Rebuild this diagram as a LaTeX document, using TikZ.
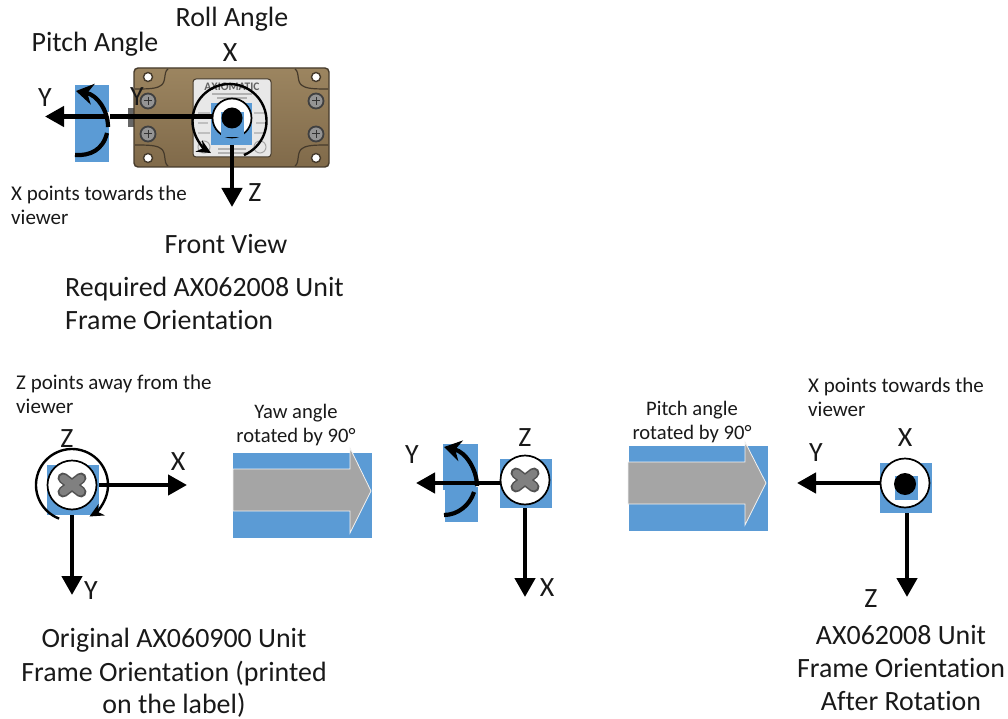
\documentclass[tikz,border=0pt]{standalone}
\usepackage{fontspec}
\setmainfont{Carlito}[Ligatures=NoCommon]
\usetikzlibrary{arrows.meta,calc}
\definecolor{bluefill}{HTML}{5B9BD5}
\definecolor{arrowgray}{HTML}{A5A5A5}
\definecolor{brassA}{HTML}{9C8560}
\definecolor{brassB}{HTML}{806A4A}
\definecolor{brassD}{HTML}{453A2B}
\tikzset{
  txt/.style={font=\fontsize{27.9}{27.9}\selectfont,inner sep=0pt,text=black!90,text depth=0pt},
  small/.style={font=\fontsize{21}{21}\selectfont,inner sep=0pt,anchor=west,text=black!90,text depth=0pt},
  angletxt/.style={font=\fontsize{20.6}{20.6}\selectfont,inner sep=0pt,text=black!90,text depth=0pt},
  bsq/.style={fill=bluefill,draw=none,inner sep=0pt,minimum width=#1},
  axis/.style={line width=4.4pt,-{Triangle[width=20pt,length=19pt]}},
  hub/.style={circle,fill=white,draw=black,line width=1.7pt,minimum size=49pt,inner sep=0pt},
  sweep/.style={line width=2.4pt,-{Stealth[width=13pt,length=14pt]}},
  pitch/.style={line width=4.2pt},
  pitchtip/.style={line width=4.2pt,-{Stealth[width=21pt,length=17pt]}},
  band/.style={fill=bluefill,draw=none},
  bigarrow/.style={fill=arrowgray,draw=white!85!arrowgray,line width=.8pt},
  crossA/.style={line width=11pt,draw=black!68,line cap=round},
  crossB/.style={line width=8pt,draw=black!50,line cap=round},
  hole/.style={circle,fill=white,draw=brassD,line width=1.4pt,minimum size=9pt,inner sep=0pt},
  screw/.style={circle,fill=black!42,draw=black!75,line width=1.8pt,minimum size=15pt,inner sep=0pt},
  notch/.style={draw=brassD,line width=1.2pt},
}
\newcommand{\screwcross}[1]{%
  \draw[crossA] ($(#1)+(-9,-7)$) -- ($(#1)+(9,7)$);
  \draw[crossA] ($(#1)+(-9,7)$) -- ($(#1)+(9,-7)$);
  \draw[crossB] ($(#1)+(-8.5,-6.5)$) -- ($(#1)+(8.5,6.5)$);
  \draw[crossB] ($(#1)+(-8.5,6.5)$) -- ($(#1)+(8.5,-6.5)$);
}
\begin{document}
\begin{tikzpicture}[x=1pt,y=-1pt]
\useasboundingbox (0,0) rectangle (1008,719);

% ---- device body
\fill[black!60] (128,108) rectangle (135,127);
\draw[draw=brassD,line width=1.4pt,top color=brassA,bottom color=brassB,rounded corners=4pt]
  (134,68) rectangle (329,167);
\draw[notch] (168,69) .. controls (163,72) and (167,83) .. (160,86) .. controls (156,89) and (145,89) .. (135,89);
\draw[notch] (295,69) .. controls (300,72) and (296,83) .. (303,86) .. controls (307,89) and (318,89) .. (328,89);
\draw[notch] (168,166) .. controls (163,163) and (167,151) .. (160,148) .. controls (156,145) and (145,145) .. (135,145);
\draw[notch] (295,166) .. controls (300,163) and (296,151) .. (303,148) .. controls (307,145) and (318,145) .. (328,145);
\node[hole] (h1) at (148,77) {};
\node[hole] (h2) at (316,77) {};
\node[hole] (h3) at (148,158) {};
\node[hole] (h4) at (316,158) {};
\node[screw] (s1) at (148,101) {};
\node[screw] (s2) at (148,134) {};
\node[screw] (s3) at (316,101) {};
\node[screw] (s4) at (316,134) {};
\foreach \n in {s1,s2,s3,s4}{
  \draw[black!80,line width=1pt] ($(\n)+(-4,0)$) -- ($(\n)+(4,0)$);
  \draw[black!80,line width=1pt] ($(\n)+(0,-4)$) -- ($(\n)+(0,4)$);
}
\fill[black!9,draw=brassD,line width=1pt,rounded corners=3pt] (193,79) rectangle (271,157);
\node[font=\bfseries\fontsize{11.5}{11.5}\selectfont,text=black!62,inner sep=0pt] (brand) at (232,87) {AXIOMATIC};
\fill[black!30] (212,93) rectangle (252,95);
\fill[black!30] (217,97) rectangle (247,99);
\fill[black!25] (198,112) rectangle (210,114);
\fill[black!25] (254,112) rectangle (266,114);
\fill[black!25] (198,122) rectangle (208,124);
\fill[black!25] (256,122) rectangle (266,124);
\fill[black!25] (198,132) rectangle (210,134);
\fill[black!25] (254,132) rectangle (266,134);
\fill[black!30] (218,148) rectangle (246,150);
\fill[black!30] (218,152) rectangle (246,154);
\draw[black!35,line width=1pt] (204,147) circle[radius=6];
\draw[black!35,line width=1pt] (260,147) circle[radius=6];

% ---- top frame
\node[txt] (roll) at (232,17) {Roll Angle};
\node[txt] (pitchlab) at (95,42) {Pitch Angle};
\node[txt] (xa) at (230,53) {X};
\node[txt] (ya) at (45,98) {Y};
\node[txt] (yb) at (137,97) {Y};
\node[txt] (za) at (255,193) {Z};
\node[small] (n1) at (11,193) {X points towards the};
\node[small] (n2) at (11,217) {viewer};
\node[txt] (front) at (226,244) {Front View};
\node[txt,anchor=west] (req1) at (65,287) {Required AX062008 Unit};
\node[txt,anchor=west] (req2) at (65,320) {Frame Orientation};

\fill[band] (75,85) rectangle (109,162);
\node[bsq=41pt,minimum height=42pt] (sqa) at (231.5,124) {};
\coordinate (tipya) at (45,116.5);
\coordinate (tipza) at (232,207);
\node[hub,minimum size=39pt,fill=white] (huba) at (232,118) {};
\fill[bluefill] (221,112) rectangle (244,137);
\node[circle,fill=black,minimum size=21pt,inner sep=0pt] (dota) at (232,118) {};
\draw[axis] (huba.west |- tipya) -- (tipya);
\draw[axis] (sqa.south -| tipza) -- (tipza);
\draw[white,line width=3pt] (108,112) -- (108,120);
\draw[pitchtip] (108,127) .. controls (108,110) and (97,95) .. (76,91);
\draw[pitch] (107,133) .. controls (103,150) and (90,156) .. (75,155);
\coordinate (rca) at (229.5,121);
\draw[sweep] ([shift={(67:37)}]rca) arc (67:-240:37);

% ---- left frame
\node[small] (n3) at (16,382) {Z points away from the};
\node[small] (n4) at (16,406) {viewer};
\node[txt] (zb) at (67,439) {Z};
\node[txt] (xb) at (178,462) {X};
\node[txt] (yc) at (91,591) {Y};
\node[bsq=52pt,minimum height=50pt] (sqb) at (73,490) {};
\node[hub] (hubb) at (72,485) {};
\screwcross{hubb}
\coordinate (tipxb) at (187,485);
\coordinate (tipyb) at (72,595);
\draw[axis] (sqb.east |- hubb) -- (tipxb);
\draw[axis] (sqb.south -| tipyb) -- (tipyb);
\coordinate (rcb) at (72,485);
\draw[sweep] ([shift={(111:36)}]rcb) arc (111:421:36);
\node[txt] (o1) at (174,638) {Original AX060900 Unit};
\node[txt] (o2) at (174,671) {Frame Orientation (printed};
\node[txt] (o3) at (174,703) {on the label)};

% ---- first big arrow
\node[angletxt] (yaw1) at (296,411) {Yaw angle};
\node[angletxt] (yaw2) at (296,435) {rotated by 90°};
\fill[band] (233,453) rectangle (372,538);
\draw[bigarrow] (233,469) -- (350,469) -- (350,448) -- (371,491) -- (350,533) -- (350,511) -- (233,511) -- cycle;

% ---- middle frame
\fill[band] (445,444) rectangle (478,522);
\fill[band] (443,444) rectangle (446,490);
\node[bsq=52pt,minimum height=49pt] (sqc) at (526,483.5) {};
\node[txt] (zc) at (525,438) {Z};
\node[txt] (yd) at (412,455) {Y};
\node[txt] (xc) at (547,588) {X};
\node[hub] (hubc) at (525,480) {};
\screwcross{hubc}
\coordinate (tipyc) at (416,483);
\coordinate (tipxc) at (525,597);
\draw[axis] (hubc.west |- tipyc) -- (tipyc);
\draw[axis] (sqc.south -| tipxc) -- (tipxc);
\draw[white,line width=3pt] (477,479) -- (477,487);
\draw[pitchtip] (477,486) .. controls (477,470) and (466,452) .. (444,447);
\draw[pitch] (474,492) .. controls (470,505) and (458,515) .. (444,515);

% ---- second big arrow
\node[angletxt] (pit1) at (692,408) {Pitch angle};
\node[angletxt] (pit2) at (692,432) {rotated by 90°};
\fill[band] (629,446) rectangle (768,531);
\draw[bigarrow] (628,462) -- (745,462) -- (745,442) -- (766,483) -- (745,525) -- (745,504) -- (628,504) -- cycle;

% ---- right frame
\node[small] (n5) at (808,385) {X points towards the};
\node[small] (n6) at (808,409) {viewer};
\node[bsq=52pt,minimum height=50pt] (sqd) at (906,488) {};
\node[hub] (hubd) at (905,483) {};
\fill[bluefill] (895,476) rectangle (918,500);
\node[circle,fill=black,minimum size=22pt,inner sep=0pt] (dotd) at (905,484) {};
\node[txt] (xd) at (905,438) {X};
\node[txt] (ye) at (816,453) {Y};
\node[txt] (zd) at (871,599) {Z};
\coordinate (tipyd) at (797,483);
\coordinate (tipzd) at (907,597);
\draw[axis] (hubd.west) -- (tipyd);
\draw[axis] (sqd.south -| tipzd) -- (tipzd);
\node[txt] (r1) at (901,635) {AX062008 Unit};
\node[txt] (r2) at (901,668) {Frame Orientation};
\node[txt] (r3) at (901,701) {After Rotation};
\end{tikzpicture}
\end{document}
